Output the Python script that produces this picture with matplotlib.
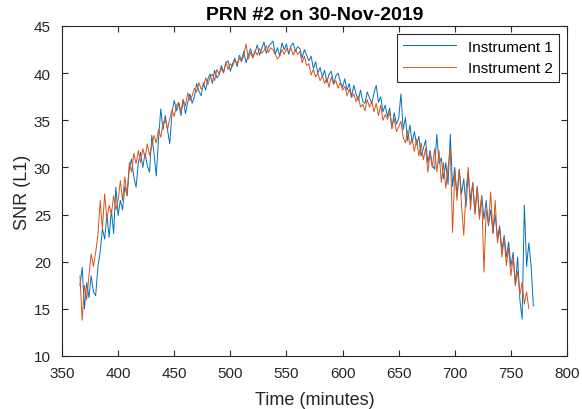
import numpy as np
import matplotlib
matplotlib.use("Agg")
import matplotlib.pyplot as plt

plt.rcParams['font.family'] = ['Liberation Sans', 'DejaVu Sans']

# time axis, minutes (2-minute samples)
t1 = np.arange(366, 771, 2)
t2 = np.arange(366, 767, 2)

snr1 = [17.5, 19.4, 15.0, 17.8, 16.2, 18.5, 16.8, 16.4, 19.5, 21.0,
        23.5, 22.4, 25.0, 22.6, 25.5, 23.0, 27.9, 24.9, 26.5, 25.5,
        28.0, 27.0, 30.0, 30.9, 29.0, 27.9, 30.5, 31.6, 30.0, 31.5,
        30.2, 29.5, 33.4, 31.5, 29.1, 33.0, 36.2, 34.0, 35.5, 34.0,
        32.5, 35.8, 37.1, 36.0, 36.8, 35.5, 37.2, 35.7, 36.9, 37.8,
        36.8, 37.5, 38.9, 38.1, 37.6, 39.0, 38.2, 39.4, 39.9, 38.9,
        40.3, 39.5, 39.8, 40.8, 40.1, 41.1, 41.3, 40.2, 41.0, 41.6,
        40.7, 41.9, 41.4, 42.3, 41.1, 41.9, 42.6, 41.7, 42.2, 43.0,
        41.9, 42.6, 43.3, 42.1, 42.8, 43.1, 43.4, 42.0, 42.7, 41.8,
        43.2, 42.5, 43.1, 42.0, 42.9, 43.2, 42.3, 42.8, 42.6, 41.6,
        42.5, 41.9, 41.3, 41.8, 40.5, 41.2, 40.0, 40.6, 39.6, 40.3,
        39.0, 39.9, 40.2, 38.9, 39.7, 40.0, 39.1, 38.5, 39.4, 38.2,
        38.9, 37.5, 38.7, 37.8, 37.1, 38.2, 37.0, 36.8, 38.0, 37.4,
        36.8, 37.9, 38.7, 36.9, 37.5, 35.9, 36.6, 35.4, 36.3, 34.1,
        35.8, 34.6, 35.2, 37.8, 34.0, 35.3, 32.8, 34.5, 32.6, 33.8,
        32.4, 33.3, 31.2, 32.0, 32.9, 30.5, 31.8, 30.2, 29.8, 33.5,
        30.4, 31.0, 28.8, 30.5, 28.2, 33.5, 28.0, 30.0, 27.0, 29.8,
        27.2, 28.8, 25.8, 29.5, 26.5, 28.4, 25.2, 28.0, 24.8, 27.0,
        24.5, 26.5, 23.8, 25.5, 23.0, 25.0, 22.5, 23.8, 21.2, 22.8,
        20.5, 22.1, 19.5, 21.0, 17.5, 20.5, 16.0, 13.9, 26.0, 19.5,
        22.0, 19.6, 15.3]

snr2 = [18.5, 13.8, 17.5, 16.0, 18.5, 20.8, 19.5, 21.0, 22.8, 26.5,
        23.5, 27.2, 24.5, 26.0, 25.0, 27.0, 25.5, 26.5, 28.6, 26.5,
        29.0, 27.0, 30.5, 29.5, 31.5, 30.4, 31.8, 30.5, 32.0, 31.0,
        32.5, 31.3, 32.2, 33.4, 32.6, 34.0, 33.2, 34.7, 35.1, 34.0,
        35.2, 36.1, 35.4, 36.6, 36.9, 35.9, 37.2, 36.5, 37.9, 37.1,
        37.6, 38.4, 38.0, 39.0, 38.3, 38.6, 39.5, 38.8, 39.6, 39.9,
        39.2, 40.4, 39.9, 40.5, 40.0, 41.2, 40.4, 41.0, 40.7, 41.4,
        41.0, 41.6, 41.2, 41.9, 43.1, 41.5, 42.2, 41.6, 42.4, 41.9,
        42.6, 42.1, 42.4, 42.9, 42.2, 42.7, 42.5, 42.0, 41.5, 41.8,
        42.5, 42.0, 42.6, 42.2, 42.7, 41.9, 42.5, 42.0, 42.3, 41.1,
        41.8, 40.8, 41.0, 39.8, 40.4, 39.6, 40.0, 39.2, 39.7, 38.9,
        39.5, 38.5, 39.6, 38.8, 39.2, 38.4, 39.0, 38.2, 38.6, 37.6,
        38.3, 37.4, 37.8, 37.0, 37.6, 36.4, 36.7, 36.0, 37.2, 36.4,
        37.0, 35.9, 36.8, 35.5, 36.6, 35.0, 35.6, 35.1, 35.8, 34.3,
        35.2, 33.8, 34.3, 34.9, 33.2, 32.6, 33.9, 32.4, 33.0, 31.7,
        33.0, 31.2, 32.6, 30.8, 32.0, 29.5, 31.5, 30.0, 32.0, 29.5,
        31.8, 28.4, 30.5, 27.8, 30.0, 32.0, 23.1, 29.5, 26.5, 29.8,
        26.0, 22.8, 27.5, 30.0, 25.5, 28.4, 25.0, 27.8, 24.5, 27.0,
        18.9, 25.5, 24.0, 27.4, 23.0, 26.5, 22.0, 23.5, 20.5, 22.5,
        19.6, 21.5, 18.5, 20.5, 17.5, 19.0, 16.5, 17.8, 15.5, 16.8,
        15.0]

fig = plt.figure(figsize=(5.82, 4.10), dpi=100)
ax = fig.add_axes([62/582, 53/410, 505/582, 330/410])

ax.plot(t1, snr1, color="#0072BD", lw=0.7, label="Instrument 1")
ax.plot(t2, snr2, color="#D95319", lw=0.7, label="Instrument 2")

ax.set_xlim(350, 800)
ax.set_ylim(10, 45)
ax.set_xticks(range(350, 801, 50))
ax.set_yticks(range(10, 46, 5))
ax.tick_params(direction="in", top=True, right=True, labelsize=11, length=4,
               color="#262626", labelcolor="#262626")
ax.tick_params(axis="x", pad=7)
ax.tick_params(axis="y", pad=8)
for s in ax.spines.values():
    s.set_color("#262626")
    s.set_linewidth(0.8)

ax.set_title("PRN #2 on 30-Nov-2019", fontsize=14, fontweight="bold", color="black", pad=5)
ax.set_xlabel("Time (minutes)", fontsize=13, color="#262626", labelpad=8)
ax.set_ylabel("SNR (L1)", fontsize=13, color="#262626", labelpad=2)
leg = ax.legend(loc="upper right", fontsize=11, fancybox=False, framealpha=1,
                edgecolor="#262626", handlelength=3.5, borderpad=0.4)
leg.get_frame().set_linewidth(0.8)

fig.savefig("out.png", dpi=100)
